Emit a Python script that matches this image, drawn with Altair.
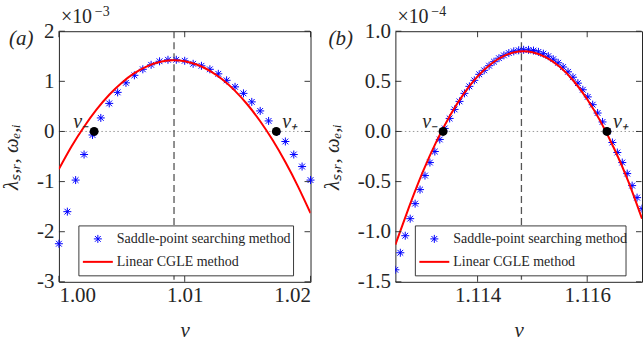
import altair as alt
import pandas as pd

FONT = "Liberation Serif"
INK = "#262626"
BLUE = "#0000FF"
RED = "#FF0000"
# MATLAB-style asterisk marker (plus overlaid with a cross)
STAR = "M-1,0L1,0M0,-1L0,1M-0.72,-0.72L0.72,0.72M-0.72,0.72L0.72,-0.72"

# ---------------- Panel (a): values in units of 1e-3 ----------------
a_star_v = [1.00000, 1.00067, 1.00133, 1.00200, 1.00267, 1.00333, 1.00400, 1.00467,
            1.00533, 1.00600, 1.00667, 1.00733, 1.00800, 1.00867, 1.00933, 1.01000,
            1.01067, 1.01133, 1.01200, 1.01267, 1.01333, 1.01400, 1.01467, 1.01533,
            1.01600, 1.01667, 1.01733, 1.01800, 1.01867, 1.01933, 1.02000]
a_star_y = [-2.24, -1.60, -0.97, -0.46, -0.07, 0.27, 0.56, 0.78, 0.97, 1.12, 1.24,
            1.33, 1.40, 1.43, 1.43, 1.41, 1.35, 1.31, 1.24, 1.15, 1.02, 0.89, 0.76,
            0.59, 0.41, 0.21, -0.01, -0.20, -0.46, -0.70, -0.97]
a_line_v = [1.000, 1.001, 1.002, 1.003, 1.004, 1.005, 1.006, 1.007, 1.008, 1.009, 1.010,
            1.011, 1.012, 1.013, 1.014, 1.015, 1.016, 1.017, 1.018, 1.019, 1.020]
a_line_y = [-0.75, -0.30, 0.095, 0.44, 0.733, 0.974, 1.163, 1.30, 1.386, 1.419, 1.401,
            1.331, 1.21, 1.036, 0.81, 0.533, 0.204, -0.177, -0.61, -1.095, -1.63]
a_roots_v = [1.0028, 1.01728]
a_peak_v = [1.00915]
a_xticks = [1.00, 1.01, 1.02]
a_yticks = [-3, -2, -1, 0, 1, 2]

# ---------------- Panel (b): values in units of 1e-4 ----------------
b_star_v = [1.11250, 1.11259, 1.11268, 1.11277, 1.11286, 1.11295, 1.11304, 1.11313,
            1.11322, 1.11331, 1.11340, 1.11349, 1.11358, 1.11367, 1.11376, 1.11385,
            1.11394, 1.11403, 1.11412, 1.11421, 1.11430, 1.11439, 1.11448, 1.11457,
            1.11466, 1.11475, 1.11484, 1.11493, 1.11502, 1.11511, 1.11520, 1.11529,
            1.11538, 1.11547, 1.11556, 1.11565, 1.11574, 1.11583, 1.11592, 1.11601,
            1.11610, 1.11619, 1.11628, 1.11637, 1.11646, 1.11655, 1.11664, 1.11673,
            1.11682, 1.11691, 1.11700]
b_star_y = [-1.38, -1.21, -1.04, -0.87, -0.72, -0.58, -0.44, -0.31, -0.20, -0.08,
            0.03, 0.13, 0.22, 0.30, 0.38, 0.45, 0.51, 0.57, 0.61, 0.656, 0.696, 0.731,
            0.759, 0.782, 0.799, 0.81, 0.815, 0.814, 0.807, 0.794, 0.776, 0.751, 0.721,
            0.685, 0.643, 0.595, 0.541, 0.482, 0.416, 0.345, 0.267, 0.184, 0.095, 0.0,
            -0.11, -0.21, -0.31, -0.42, -0.54, -0.66, -0.77]
b_line_v = [1.1125, 1.11275, 1.1130, 1.11325, 1.1135, 1.11375, 1.1140, 1.11425, 1.1145,
            1.11475, 1.1150, 1.11525, 1.1155, 1.11575, 1.1160, 1.11625, 1.1165, 1.11675,
            1.1170]
b_line_y = [-1.13, -0.753, -0.404, -0.099, 0.162, 0.378, 0.549, 0.676, 0.759, 0.797,
            0.791, 0.740, 0.645, 0.506, 0.322, 0.093, -0.18, -0.497, -0.87]
b_roots_v = [1.11337, 1.11636]
b_peak_v = [1.11480]
b_xticks = [1.114, 1.116]
b_yticks = [-1.5, -1.0, -0.5, 0.0, 0.5, 1.0]

legend_labels = ["Saddle-point searching method", "Linear CGLE method"]
root_labels = ["v₋", "v₊"]

H = 251
TICK = 6


def panel(star_v, star_y, line_v, line_y, roots_v, peak_v, xdom, ydom,
          xticks, yticks, xfmt, yfmt, width, tag, tag_x, exponent, box_w,
          anchor, clip_stars):
    xs = alt.Scale(domain=xdom, nice=False, zero=False)
    ys = alt.Scale(domain=ydom, nice=False, zero=False)

    x_axis = alt.Axis(values=xticks, format=xfmt, title="v", titleFontStyle="italic",
                      labelPadding=3, titlePadding=14, domain=False, ticks=False,
                      grid=False)
    y_axis = alt.Axis(values=yticks, format=yfmt,
                      labelExpr="replace(datum.label, '−', '-')",
                      title="λₛ,ᵣ, ωₑ,ᵢ", titleFontStyle="italic",
                      labelPadding=5, titlePadding=15, domain=False, ticks=False,
                      grid=False)

    def X(field):
        return alt.X(field, scale=xs, axis=x_axis)

    def Y(field):
        return alt.Y(field, scale=ys, axis=y_axis)

    stars = pd.DataFrame({"v": star_v, "y": star_y})
    curve = pd.DataFrame({"v": line_v, "y": line_y})
    roots = pd.DataFrame({"v": roots_v, "y": [0.0, 0.0], "label": root_labels})
    peak = pd.DataFrame({"v": peak_v})
    zero = pd.DataFrame({"y": [0.0]})
    xt = pd.DataFrame({"v": xticks})
    yt = pd.DataFrame({"y": yticks})

    zero_line = alt.Chart(zero).mark_rule(
        color="#9a9a9a", strokeDash=[1.5, 2.5], strokeWidth=1
    ).encode(y=Y("y:Q"))

    peak_line = alt.Chart(peak).mark_rule(
        color="#555555", strokeDash=[7, 4], strokeWidth=1.3
    ).encode(x=X("v:Q"))

    star_pts = alt.Chart(stars).mark_point(
        shape=STAR, size=64, filled=False, stroke=BLUE, strokeWidth=1, opacity=1,
        clip=clip_stars
    ).encode(x=X("v:Q"), y=Y("y:Q"))

    line = alt.Chart(curve).mark_line(
        color=RED, strokeWidth=2, interpolate="natural", clip=True
    ).encode(x=X("v:Q"), y=Y("y:Q"))

    dots = alt.Chart(roots).mark_point(
        shape="circle", size=80, filled=True, color="black", opacity=1
    ).encode(x=X("v:Q"), y=Y("y:Q"))

    lbl_style = dict(font=FONT, fontSize=20, fontStyle="italic", color=INK,
                     baseline="alphabetic")
    lbl_minus = alt.Chart(roots).transform_filter("datum.label == 'v₋'").mark_text(
        align="right", dx=-5, dy=-3, **lbl_style
    ).encode(x=X("v:Q"), y=Y("y:Q"), text="label:N")
    lbl_plus = alt.Chart(roots).transform_filter("datum.label == 'v₊'").mark_text(
        align="left", dx=6, dy=-3, **lbl_style
    ).encode(x=X("v:Q"), y=Y("y:Q"), text="label:N")

    # inward tick marks on all four sides of the box
    tk = dict(color=INK, strokeWidth=0.9)
    t_bottom = alt.Chart(xt).mark_rule(**tk).encode(
        x=X("v:Q"), y=alt.value(H), y2=alt.value(H - TICK))
    t_top = alt.Chart(xt).mark_rule(**tk).encode(
        x=X("v:Q"), y=alt.value(0), y2=alt.value(TICK))
    t_left = alt.Chart(yt).mark_rule(**tk).encode(
        y=Y("y:Q"), x=alt.value(0), x2=alt.value(TICK))
    t_right = alt.Chart(yt).mark_rule(**tk).encode(
        y=Y("y:Q"), x=alt.value(width - 0.5), x2=alt.value(width - TICK))

    # legend box
    one = pd.DataFrame({"k": [0]})
    box = alt.Chart(one).mark_rect(
        fill="white", stroke=INK, strokeWidth=0.9
    ).encode(x=alt.value(20), x2=alt.value(20 + box_w), y=alt.value(195), y2=alt.value(245))
    leg_star = alt.Chart(one).mark_point(
        shape=STAR, size=64, filled=False, stroke=BLUE, strokeWidth=1, opacity=1
    ).encode(x=alt.value(39), y=alt.value(208))
    leg_line = alt.Chart(one).mark_rule(
        color=RED, strokeWidth=2
    ).encode(x=alt.value(24), x2=alt.value(54), y=alt.value(231))
    txt = dict(font=FONT, fontSize=14, color=INK, align="left", baseline="middle")
    leg_t1 = alt.Chart(pd.DataFrame({"label": [legend_labels[0]]})).mark_text(**txt).encode(
        x=alt.value(58), y=alt.value(208), text="label:N")
    leg_t2 = alt.Chart(pd.DataFrame({"label": [legend_labels[1]]})).mark_text(**txt).encode(
        x=alt.value(58), y=alt.value(231), text="label:N")

    # panel tag and axis multiplier
    tag_t = alt.Chart(pd.DataFrame({"label": [tag]})).mark_text(
        font=FONT, fontSize=21, fontStyle="italic", color=INK, align="left",
        baseline="alphabetic"
    ).encode(x=alt.value(tag_x), y=alt.value(14), text="label:N")
    mul_t = alt.Chart(pd.DataFrame({"label": ["×10"]})).mark_text(
        font=FONT, fontSize=20, color=INK, align="left", baseline="alphabetic"
    ).encode(x=alt.value(2), y=alt.value(-8), text="label:N")
    exp_t = alt.Chart(pd.DataFrame({"label": [exponent]})).mark_text(
        font=FONT, fontSize=14, color=INK, align="left", baseline="alphabetic"
    ).encode(x=alt.value(36), y=alt.value(-15), text="label:N")

    layers = [zero_line, peak_line, star_pts, line, dots, lbl_minus, lbl_plus,
              t_bottom, t_top, t_left, t_right,
              box, leg_star, leg_line, leg_t1, leg_t2, tag_t, mul_t, exp_t]
    if anchor:
        # transparent corner mark that fixes the top-left extent of the figure
        layers.append(alt.Chart(one).mark_rule(opacity=0, strokeWidth=0.1).encode(
            x=alt.value(-58), x2=alt.value(-57.9), y=alt.value(-30), y2=alt.value(-29.9)))
    return alt.layer(*layers).properties(width=width, height=H)


pa = panel(a_star_v, a_star_y, a_line_v, a_line_y, a_roots_v, a_peak_v,
           [1.00, 1.02], [-3, 2], a_xticks, a_yticks, ".2f", "d", 252,
           "(a)", -50, "−3", 215, True, False)
pb = panel(b_star_v, b_star_y, b_line_v, b_line_y, b_roots_v, b_peak_v,
           [1.1125, 1.117], [-1.5, 1.0], b_xticks, b_yticks, ".3f", ".1f", 247,
           "(b)", -67, "−4", 211, False, True)

chart = alt.hconcat(pa, pb, spacing=85, bounds="flush").properties(
    padding={"left": 0, "top": 0, "right": 0, "bottom": 0},
    background="white",
).configure_view(
    stroke=INK, strokeWidth=1
).configure_axis(
    labelFont=FONT, labelFontSize=21, labelColor=INK,
    titleFont=FONT, titleFontSize=21, titleFontWeight="normal", titleColor=INK,
)

chart.save("out.html", embed_options={"renderer": "svg", "actions": False})
